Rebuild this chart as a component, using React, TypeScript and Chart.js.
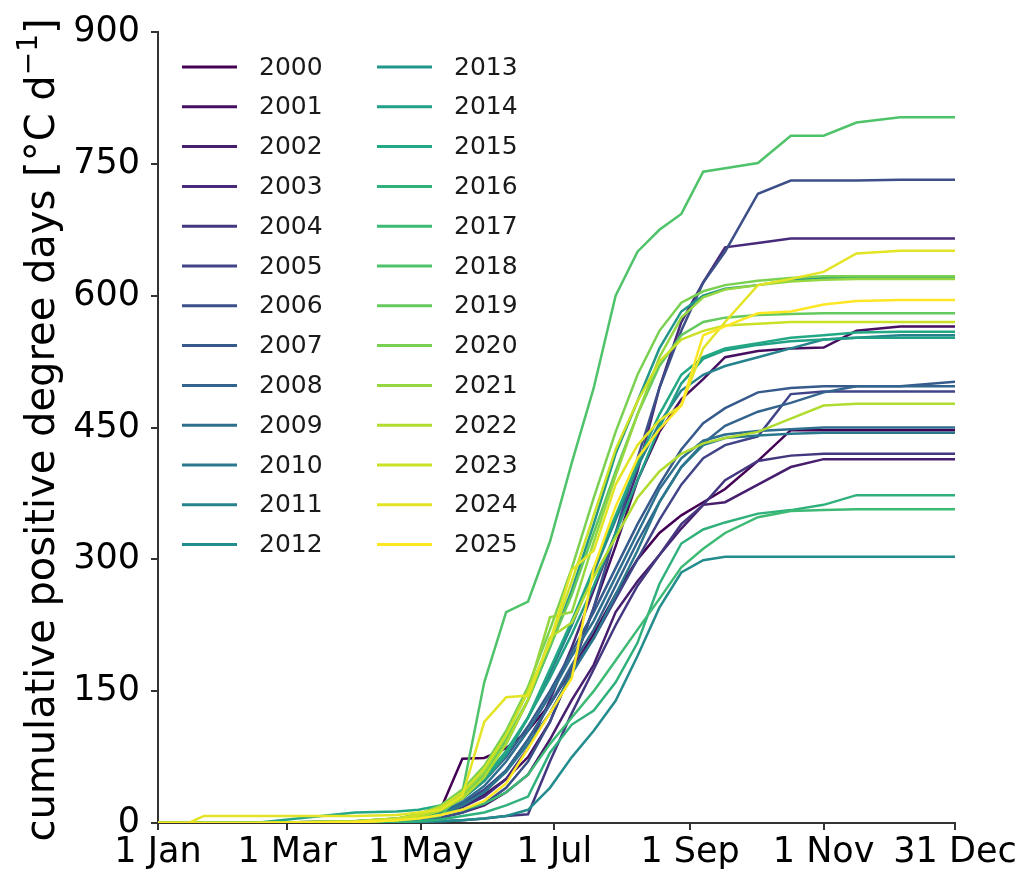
import React, { useEffect, useRef } from "react";
import { Chart, registerables } from "chart.js";

Chart.register(...registerables);

// Day of year at which each value was read
const DAYS = [1, 15, 22, 45, 91, 110, 120, 130, 140, 150, 160, 170, 180, 190, 200, 210, 220, 230, 240, 250, 260, 275, 290, 305, 320, 340, 365];

const YEARS = [2000, 2001, 2002, 2003, 2004, 2005, 2006, 2007, 2008, 2009, 2010, 2011, 2012,
  2013, 2014, 2015, 2016, 2017, 2018, 2019, 2020, 2021, 2022, 2023, 2024, 2025];

const PDD_2000 = [0, 0, 0, 0, 2, 4, 8, 15, 73, 74, 85, 105, 135, 175, 215, 260, 300, 330, 350, 365, 380, 412, 447, 447, 447, 447, 447];
const PDD_2001 = [0, 0, 0, 0, 1, 2, 5, 10, 20, 32, 50, 75, 115, 175, 245, 315, 390, 445, 482, 505, 530, 537, 540, 541, 560, 565, 565];
const PDD_2002 = [0, 0, 0, 0, 0, 1, 3, 6, 12, 20, 35, 55, 95, 140, 180, 240, 275, 305, 335, 362, 365, 385, 405, 414, 414, 414, 414];
const PDD_2003 = [0, 0, 0, 0, 0, 2, 5, 10, 18, 30, 50, 85, 140, 200, 265, 330, 400, 495, 570, 615, 655, 660, 665, 665, 665, 665, 665];
const PDD_2004 = [0, 0, 0, 0, 0, 0, 1, 2, 3, 5, 8, 10, 70, 125, 175, 225, 270, 305, 340, 362, 390, 412, 418, 420, 420, 420, 420];
const PDD_2005 = [0, 0, 0, 0, 1, 3, 6, 12, 22, 38, 60, 95, 135, 175, 210, 255, 300, 345, 385, 415, 430, 440, 488, 491, 491, 491, 491];
const PDD_2006 = [0, 0, 0, 0, 0, 1, 3, 6, 12, 22, 40, 70, 115, 175, 245, 330, 415, 495, 560, 615, 650, 716, 731, 731, 731, 732, 732];
const PDD_2007 = [0, 0, 0, 0, 1, 3, 6, 14, 28, 48, 75, 110, 150, 195, 240, 290, 340, 385, 425, 455, 472, 490, 495, 497, 497, 497, 502];
const PDD_2008 = [0, 0, 0, 0, 0, 2, 5, 10, 20, 35, 60, 95, 135, 180, 220, 270, 320, 365, 405, 432, 452, 468, 478, 490, 497, 497, 497];
const PDD_2009 = [0, 0, 0, 0, 1, 3, 6, 12, 24, 42, 70, 105, 145, 190, 230, 280, 330, 380, 415, 435, 442, 446, 448, 450, 450, 450, 450];
const PDD_2010 = [0, 0, 0, 0, 0, 2, 5, 10, 20, 35, 58, 90, 125, 170, 210, 260, 310, 365, 405, 430, 438, 441, 443, 444, 444, 444, 444];
const PDD_2011 = [0, 0, 0, 0, 1, 3, 7, 14, 28, 48, 78, 120, 170, 225, 285, 345, 405, 455, 492, 510, 520, 530, 540, 550, 552, 555, 555];
const PDD_2012 = [0, 0, 0, 0, 0, 0, 1, 2, 3, 5, 8, 15, 40, 75, 105, 139, 190, 245, 285, 299, 303, 303, 303, 303, 303, 303, 303];
const PDD_2013 = [0, 0, 0, 0, 2, 5, 10, 18, 32, 55, 90, 140, 200, 265, 340, 420, 480, 540, 582, 600, 608, 612, 618, 620, 620, 620, 620];
const PDD_2014 = [0, 0, 0, 0, 1, 3, 7, 14, 28, 48, 78, 120, 165, 215, 270, 330, 390, 450, 500, 528, 538, 544, 548, 550, 552, 552, 552];
const PDD_2015 = [0, 0, 0, 0, 12, 13, 15, 20, 32, 52, 82, 120, 175, 230, 290, 350, 410, 465, 510, 530, 540, 546, 552, 555, 558, 559, 559];
const PDD_2016 = [0, 0, 0, 0, 0, 1, 2, 4, 8, 12, 20, 30, 80, 112, 128, 160, 205, 272, 318, 334, 342, 352, 356, 362, 373, 373, 373];
const PDD_2017 = [0, 0, 0, 0, 2, 4, 6, 10, 15, 22, 35, 55, 90, 120, 150, 185, 220, 255, 291, 312, 330, 348, 355, 356, 357, 357, 357];
const PDD_2018 = [0, 0, 0, 0, 1, 3, 5, 8, 35, 160, 240, 252, 320, 410, 495, 600, 650, 675, 693, 741, 745, 751, 782, 782, 797, 803, 803];
const PDD_2019 = [0, 0, 0, 0, 1, 3, 7, 14, 30, 55, 95, 140, 200, 260, 330, 400, 465, 520, 555, 570, 575, 578, 579, 580, 580, 580, 580];
const PDD_2020 = [0, 0, 0, 0, 2, 5, 10, 20, 38, 65, 105, 155, 220, 290, 370, 445, 510, 560, 592, 605, 612, 617, 620, 622, 622, 622, 622];
const PDD_2021 = [0, 0, 0, 0, 1, 3, 8, 16, 32, 58, 100, 150, 234, 240, 320, 395, 465, 530, 575, 598, 607, 612, 616, 618, 619, 619, 619];
const PDD_2022 = [0, 0, 0, 0, 1, 3, 7, 14, 28, 52, 90, 140, 211, 228, 280, 325, 370, 400, 420, 432, 438, 445, 460, 475, 477, 477, 477];
const PDD_2023 = [0, 0, 0, 0, 2, 5, 9, 18, 35, 62, 100, 150, 205, 275, 350, 425, 480, 525, 550, 560, 566, 568, 570, 570, 570, 570, 570];
const PDD_2024 = [0, 0, 8, 8, 8, 9, 12, 15, 31, 115, 143, 145, 207, 288, 310, 385, 430, 458, 475, 540, 570, 612, 619, 627, 648, 651, 651];
const PDD_2025 = [0, 0, 0, 0, 1, 3, 5, 9, 15, 25, 45, 85, 125, 165, 290, 360, 415, 448, 475, 555, 565, 580, 582, 590, 594, 595, 595];

const SERIES = [PDD_2000, PDD_2001, PDD_2002, PDD_2003, PDD_2004, PDD_2005, PDD_2006, PDD_2007, PDD_2008,
  PDD_2009, PDD_2010, PDD_2011, PDD_2012, PDD_2013, PDD_2014, PDD_2015, PDD_2016, PDD_2017, PDD_2018,
  PDD_2019, PDD_2020, PDD_2021, PDD_2022, PDD_2023, PDD_2024, PDD_2025];

const X_TICK_DAYS = [1, 60, 121, 182, 244, 305, 365];
const X_TICK_LABELS = ["1 Jan", "1 Mar", "1 May", "1 Jul", "1 Sep", "1 Nov", "31 Dec"];
const Y_TICKS = [0, 150, 300, 450, 600, 750, 900];

// viridis anchor colours (style)
const VIRIDIS = ["#440154", "#482475", "#414487", "#355f8d", "#2a788e", "#21918c", "#22a884", "#44bf70", "#7ad151", "#bddf26", "#fde725"];

function hexToRgb(h: string) {
  return [parseInt(h.slice(1, 3), 16), parseInt(h.slice(3, 5), 16), parseInt(h.slice(5, 7), 16)];
}
function viridis(t: number) {
  const p = t * (VIRIDIS.length - 1);
  const i = Math.min(Math.floor(p), VIRIDIS.length - 2);
  const f = p - i;
  const a = hexToRgb(VIRIDIS[i]);
  const b = hexToRgb(VIRIDIS[i + 1]);
  const c = a.map((v, k) => Math.round(v + (b[k] - v) * f));
  return `rgb(${c[0]},${c[1]},${c[2]})`;
}

const FONT = '"DejaVu Sans", sans-serif';

const overlayPlugin = {
  id: "overlay",
  afterDraw(chart: any) {
    const ctx = chart.ctx;
    // legend
    ctx.save();
    ctx.font = `25px ${FONT}`;
    ctx.textBaseline = "middle";
    ctx.textAlign = "left";
    YEARS.forEach((yr, i) => {
      const col = i < 13 ? 0 : 1;
      const row = i % 13;
      const y = 67 + row * 39.8;
      const x0 = col === 0 ? 182 : 377;
      ctx.strokeStyle = viridis(i / (YEARS.length - 1));
      ctx.lineWidth = 3;
      ctx.beginPath();
      ctx.moveTo(x0, y);
      ctx.lineTo(x0 + 55, y);
      ctx.stroke();
      ctx.fillStyle = "#1a1a1a";
      ctx.fillText(String(yr), x0 + 77, y + 1);
    });
    ctx.restore();

    // y-axis title with superscript
    ctx.save();
    ctx.translate(40, 430);
    ctx.rotate(-Math.PI / 2);
    const fs = 40;
    const main = "cumulative positive degree days [°C d";
    const sup = "−1";
    const end = "]";
    ctx.font = `${fs}px ${FONT}`;
    const w1 = ctx.measureText(main).width;
    const w3 = ctx.measureText(end).width;
    ctx.font = `${fs * 0.7}px ${FONT}`;
    const w2 = ctx.measureText(sup).width;
    const total = w1 + w2 + w3;
    let x = -total / 2;
    const base = 0.346 * fs;
    ctx.fillStyle = "#000";
    ctx.textBaseline = "alphabetic";
    ctx.textAlign = "left";
    ctx.font = `${fs}px ${FONT}`;
    ctx.fillText(main, x, base);
    x += w1;
    ctx.font = `${fs * 0.7}px ${FONT}`;
    ctx.fillText(sup, x, base - fs * 0.42);
    x += w2;
    ctx.font = `${fs}px ${FONT}`;
    ctx.fillText(end, x, base);
    ctx.restore();
  },
};

export default function App() {
  const ref = useRef<HTMLCanvasElement | null>(null);
  useEffect(() => {
    if (!ref.current) return;
    const datasets = YEARS.map((yr, i) => ({
      label: String(yr),
      data: DAYS.map((d, j) => ({ x: d, y: SERIES[i][j] })),
      borderColor: viridis(i / (YEARS.length - 1)),
      backgroundColor: viridis(i / (YEARS.length - 1)),
      borderWidth: 2.5,
      pointRadius: 0,
      tension: 0,
      fill: false,
      order: YEARS.length - 1 - i,
    }));
    const chart = new Chart(ref.current, {
      type: "line",
      data: { datasets },
      options: {
        animation: false,
        responsive: false,
        devicePixelRatio: 1,
        layout: { padding: { top: 31, right: 74, left: 0, bottom: 0 } },
        plugins: { legend: { display: false }, tooltip: { enabled: false } },
        scales: {
          x: {
            type: "linear",
            min: 1,
            max: 365,
            afterBuildTicks: (s: any) => {
              s.ticks = X_TICK_DAYS.map((v) => ({ value: v }));
            },
            afterFit: (s: any) => {
              s.height = 59;
            },
            ticks: {
              autoSkip: false,
              maxRotation: 0,
              minRotation: 0,
              padding: 2,
              color: "#000",
              font: { family: FONT, size: 35 },
              callback: (_v: any, i: number) => X_TICK_LABELS[i],
            },
            grid: { display: true, drawOnChartArea: false, drawTicks: true, tickLength: 7, color: "#333", lineWidth: 2 },
            border: { display: true, color: "#333", width: 2 },
          },
          y: {
            type: "linear",
            min: 0,
            max: 900,
            afterBuildTicks: (s: any) => {
              s.ticks = Y_TICKS.map((v) => ({ value: v }));
            },
            afterFit: (s: any) => {
              s.width = 158;
            },
            ticks: {
              padding: 11,
              color: "#000",
              font: { family: FONT, size: 35 },
            },
            grid: { display: true, drawOnChartArea: false, drawTicks: true, tickLength: 7, color: "#333", lineWidth: 2 },
            border: { display: true, color: "#333", width: 2 },
          },
        },
      },
      plugins: [overlayPlugin],
    } as any);
    return () => chart.destroy();
  }, []);
  return (
    <div style={{ position: "fixed", left: 0, top: 0, width: 1029, height: 882, background: "#fff" }}>
      <canvas ref={ref} width={1029} height={882} style={{ width: 1029, height: 882 }} />
    </div>
  );
}
